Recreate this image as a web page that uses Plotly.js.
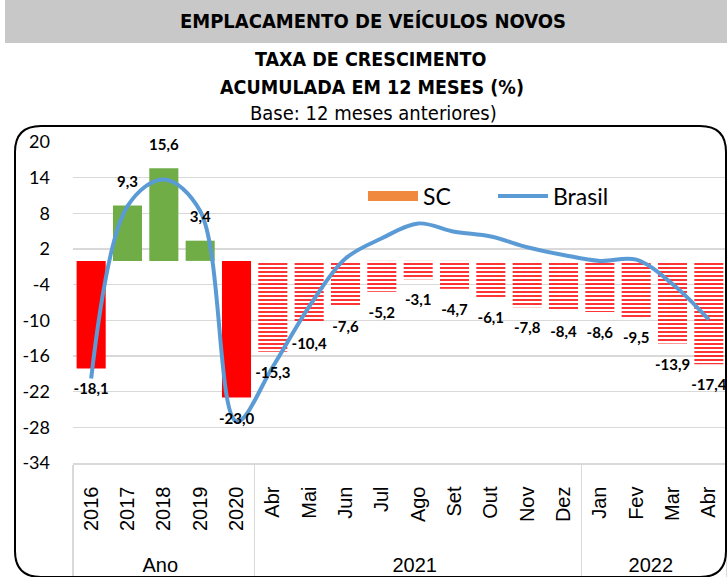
<!DOCTYPE html>
<html>
<head>
<meta charset="utf-8">
<script src="https://cdn.plot.ly/plotly-3.0.1.min.js"></script>
<style>html,body{margin:0;padding:0;background:#fff;}#chart{width:727px;height:577px;}</style>
</head>
<body>
<div id="chart"></div>
<script>
// ---- data ----
const categories = ['2016','2017','2018','2019','2020','Abr','Mai','Jun','Jul','Ago','Set','Out','Nov','Dez','Jan','Fev','Mar','Abr'];
const groups = ['Ano','Ano','Ano','Ano','Ano','2021','2021','2021','2021','2021','2021','2021','2021','2021','2022','2022','2022','2022'];
const scValues = [-18.1, 9.3, 15.6, 3.4, -23.0, -15.3, -10.4, -7.6, -5.2, -3.1, -4.7, -6.1, -7.8, -8.4, -8.6, -9.5, -13.9, -17.4];
const brasilValues = [-19.8, 9.2, 13.7, 8.4, -27.0, -17.8, -7.7, 0.4, 3.8, 6.3, 4.9, 4.1, 2.3, 1.0, 0.0, 0.2, -3.9, -9.9];
const yTicks = [20, 14, 8, 2, -4, -10, -16, -22, -28, -34];
const seriesNames = ['SC', 'Brasil'];
const mainTitle = 'EMPLACAMENTO DE VEÍCULOS NOVOS';
const subTitle1 = 'TAXA DE CRESCIMENTO';
const subTitle2 = 'ACUMULADA EM 12 MESES (%)';
const subTitle3 = 'Base: 12 meses anteriores)';

// ---- geometry helpers (layout only) ----
const W = 727, H = 577;
const M = {l: 73, r: 0, t: 142, b: 114};
const PW = W - M.l - M.r, PH = H - M.t - M.b;
const px2x = p => (p - M.l) / PW;
const px2y = p => (H - M.b - p) / PH;

// make repeated inner labels unique (e.g. Abr 2021 / Abr 2022) so order is kept;
// leading no-break spaces push the group row further down, as in the original
const seen = {};
const PAD = '\u00a0\u00a0\u00a0';
const innerLabels = categories.map(c => {
  seen[c] = (seen[c] || 0) + 1;
  return PAD + c + '\u200b'.repeat(seen[c] - 1);
});
const x = [groups, innerLabels];
const isAnnual = groups.map(g => g === 'Ano');
const barColors = scValues.map((v, i) => isAnnual[i] ? (v < 0 ? '#ff0000' : '#70ad47') : '#ff0000');
const patShapes = isAnnual.map(a => a ? '' : '-');
const fmt = v => v.toFixed(1).replace('.', ',');
const labelFont = "Lato, Carlito, 'Open Sans', sans-serif";
const narrow = "'Liberation Sans Narrow', 'Arial Narrow', 'DejaVu Sans Condensed', sans-serif";
const axisFont = "'Liberation Sans', Arial, sans-serif";

const traces = [
  {
    type: 'bar', x: x, y: scValues, name: seriesNames[0], showlegend: false,
    marker: {
      color: barColors, line: {width: 0},
      pattern: {shape: patShapes, bgcolor: '#ff0000', fgcolor: '#ffffff', size: 4, solidity: 0.4, fillmode: 'replace'}
    },
    hoverinfo: 'y'
  },
  {
    type: 'scatter', mode: 'lines', x: x, y: brasilValues, name: seriesNames[1],
    line: {color: '#5b9bd5', width: 4, shape: 'spline', smoothing: 1}, showlegend: false
  },
  {
    type: 'scatter', mode: 'markers+text', x: x, y: scValues, showlegend: false,
    text: scValues.map(fmt),
    textposition: scValues.map(v => v < 0 ? 'bottom center' : 'top center'),
    textfont: {family: labelFont, size: 15, color: '#000', weight: 'bold'},
    marker: {size: 22, color: 'rgba(0,0,0,0)'}, cliponaxis: false, hoverinfo: 'skip'
  },
  // legend entries
  {
    type: 'scatter', mode: 'lines', x: [x[0].slice(0,1), x[1].slice(0,1)], y: [null], name: seriesNames[0],
    line: {color: '#f0893e', width: 14}, hoverinfo: 'skip'
  },
  {
    type: 'scatter', mode: 'lines', x: [x[0].slice(0,1), x[1].slice(0,1)], y: [null], name: seriesNames[1],
    line: {color: '#5b9bd5', width: 4}, hoverinfo: 'skip'
  }
];

// rounded border path
function roundRect(x0, y0, x1, y1, r) {
  const P = (a, b) => px2x(a) + ',' + px2y(b);
  return 'M' + P(x0 + r, y0) + ' L' + P(x1 - r, y0) + ' Q' + P(x1, y0) + ' ' + P(x1, y0 + r) +
    ' L' + P(x1, y1 - r) + ' Q' + P(x1, y1) + ' ' + P(x1 - r, y1) +
    ' L' + P(x0 + r, y1) + ' Q' + P(x0, y1) + ' ' + P(x0, y1 - r) +
    ' L' + P(x0, y0 + r) + ' Q' + P(x0, y0) + ' ' + P(x0 + r, y0) + ' Z';
}

const layout = {
  width: W, height: H,
  margin: M,
  paper_bgcolor: '#ffffff', plot_bgcolor: '#ffffff',
  font: {family: labelFont, color: '#000'},
  barmode: 'overlay', bargap: 0.2,
  title: {text: mainTitle, x: px2x(373), xref: 'paper', xanchor: 'center', y: 1 - 21 / H, yanchor: 'middle',
    font: {family: narrow, size: 20, color: '#000', weight: 'bold'}},
  xaxis: {
    type: 'multicategory', range: [-0.5, categories.length - 0.5], autorange: false,
    tickangle: -90, showdividers: true, dividercolor: '#d9d9d9', dividerwidth: 1.5,
    showline: true, linecolor: '#d9d9d9', linewidth: 1.5, ticks: '', showgrid: false,
    ticklabelstandoff: 14,
    tickfont: {family: axisFont, size: 20, color: '#000'}, fixedrange: true
  },
  yaxis: {
    range: [-34, 20], autorange: false, tickvals: yTicks, ticktext: yTicks.map(String), showgrid: true,
    gridcolor: '#d9d9d9', gridwidth: 1.5, zeroline: false, showline: false, ticks: '',
    ticklabelstandoff: 22, tickfont: {family: labelFont, size: 18, color: '#000'}, fixedrange: true
  },
  legend: {
    orientation: 'h', x: px2x(363), xanchor: 'left', y: px2y(196), yanchor: 'middle',
    font: {family: labelFont, size: 23, color: '#000'}, itemwidth: 50, bgcolor: 'rgba(0,0,0,0)',
    entrywidth: 65, entrywidthmode: 'pixels',
    itemclick: false, itemdoubleclick: false
  },
  shapes: [
    {type: 'rect', xref: 'paper', yref: 'paper', x0: px2x(5), x1: px2x(730), y0: px2y(43), y1: px2y(-2),
      fillcolor: '#c8c8c8', line: {width: 0}, layer: 'below'},
    {type: 'path', xref: 'paper', yref: 'paper', path: roundRect(15, 126, 726, 577, 26),
      line: {color: '#000', width: 2}, layer: 'above'}
  ],
  annotations: [
    {text: subTitle1, xref: 'paper', yref: 'paper', x: px2x(370), y: px2y(59), showarrow: false,
      font: {family: narrow, size: 19.5, weight: 'bold'}, yanchor: 'middle'},
    {text: subTitle2, xref: 'paper', yref: 'paper', x: px2x(372), y: px2y(87), showarrow: false,
      font: {family: narrow, size: 19.5, weight: 'bold'}, yanchor: 'middle'},
    {text: subTitle3, xref: 'paper', yref: 'paper', x: px2x(373), y: px2y(113), showarrow: false,
      font: {family: narrow, size: 20}, yanchor: 'middle'}
  ],
  showlegend: true
};

Plotly.newPlot('chart', traces, layout, {displayModeBar: false, staticPlot: true});
</script>
</body>
</html>
